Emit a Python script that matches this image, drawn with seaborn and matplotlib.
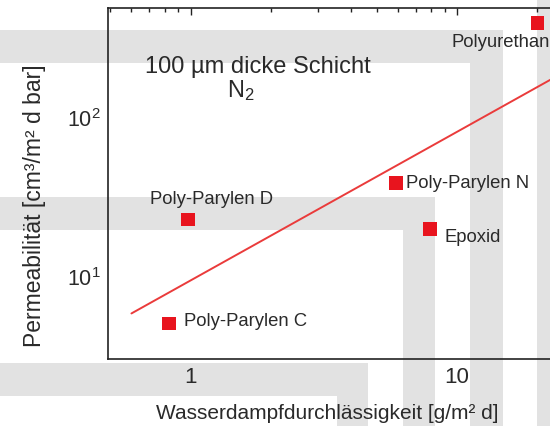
import matplotlib
matplotlib.use("Agg")
import matplotlib.pyplot as plt
from matplotlib.patches import Rectangle
from matplotlib.ticker import LogLocator, NullFormatter
import seaborn as sns
import pandas as pd

# ---- data ----
materials = ["Poly-Parylen C", "Poly-Parylen D", "Poly-Parylen N", "Epoxid", "Polyurethan"]
water_vapour = [0.83, 0.98, 5.9, 7.9, 20.0]      # g/m^2 d
permeability = [5.1, 23.0, 39.0, 20.0, 395.0]    # cm^3/m^2 d bar
fit_x = [0.60, 30.0]
fit_y = [5.9, 229.0]

sns.set_theme(style="white")
plt.rcParams["font.family"] = ["Liberation Sans", "DejaVu Sans"]
plt.rcParams["mathtext.fontset"] = "custom"
plt.rcParams["mathtext.rm"] = "Liberation Sans"
plt.rcParams["mathtext.it"] = "Liberation Sans:italic"
plt.rcParams["mathtext.bf"] = "Liberation Sans:bold"

W, H = 550, 426
fig = plt.figure(figsize=(W / 100, H / 100), dpi=100, facecolor="white")

# light grey background bands (scan artefact of the original)
grey = "#e2e2e2"
bands = [
    (0, 30, 503, 33), (470, 30, 33, 396),
    (0, 197, 435, 33), (403, 197, 32, 229),
    (0, 363, 368, 33), (337, 363, 31, 63),
    (537, 0, 13, 426),
]
for (bx, by, bw, bh) in bands:
    fig.patches.append(Rectangle((bx / W, 1 - (by + bh) / H), bw / W, bh / H,
                                 transform=fig.transFigure, facecolor=grey,
                                 edgecolor="none", zorder=-5))

left, right, top, bottom = 108, 550, 8, 359
ax = fig.add_axes([left / W, 1 - bottom / H, (right - left) / W, (bottom - top) / H])
ax.set_facecolor("none")

df = pd.DataFrame({"x": water_vapour, "y": permeability, "m": materials})
fit = pd.DataFrame({"x": fit_x, "y": fit_y})

sns.lineplot(data=fit, x="x", y="y", ax=ax, color="#ea3b3b", lw=1.4)
sns.scatterplot(data=df, x="x", y="y", ax=ax, marker="s", s=95,
                color="#e8141e", edgecolor="none", zorder=5)

ax.set_xscale("log")
ax.set_yscale("log")
ax.set_xlim(0.49, 22.3)
ax.set_ylim(3.05, 492)

ax.xaxis.set_minor_locator(LogLocator(base=10, subs=range(2, 10), numticks=20))
ax.yaxis.set_minor_locator(LogLocator(base=10, subs=range(2, 10), numticks=20))
ax.xaxis.set_minor_formatter(NullFormatter())
ax.yaxis.set_minor_formatter(NullFormatter())
ax.set_xticks([1, 10])
ax.set_xticklabels(["1", "10"])

ax.tick_params(which="both", direction="in", top=True, right=False,
               color="#222222", width=1.0, labelcolor="#2a2a2a")
ax.tick_params(which="major", length=5)
ax.tick_params(which="minor", length=3)
ax.tick_params(axis="x", which="major", labelsize=16, pad=6)
ax.tick_params(axis="y", which="major", labelsize=15.5, pad=5)

for s in ["left", "bottom", "top"]:
    ax.spines[s].set_color("#222222")
    ax.spines[s].set_linewidth(1.2)
ax.spines["right"].set_visible(False)

ax.set_xlabel("Wasserdampfdurchlässigkeit [g/m² d]", fontsize=15, color="#2a2a2a")
ax.set_ylabel("Permeabilität [cm³/m² d bar]", fontsize=16.5, color="#2a2a2a")
ax.xaxis.set_label_coords(0.497, -0.128)
ax.yaxis.set_label_coords(-0.14, 0.436)

offsets = {
    "Poly-Parylen C": (15, 2),
    "Poly-Parylen D": (-38, 20),
    "Poly-Parylen N": (10, 0),
    "Epoxid": (15, -8),
    "Polyurethan": (-86, -19),
}
for xv, yv, name in zip(water_vapour, permeability, materials):
    dx, dy = offsets[name]
    ax.annotate(name, (xv, yv), xytext=(dx, dy), textcoords="offset pixels",
                ha="left", va="center", fontsize=13.3, color="#2a2a2a",
                annotation_clip=False)

ax.text(0.338, 0.832, "100 µm dicke Schicht", transform=ax.transAxes,
        ha="center", va="center", fontsize=17, color="#2a2a2a")
ax.text(0.30, 0.765, "N$_2$", transform=ax.transAxes,
        ha="center", va="center", fontsize=17, color="#2a2a2a")

fig.savefig("out.png", dpi=100, facecolor="white")
